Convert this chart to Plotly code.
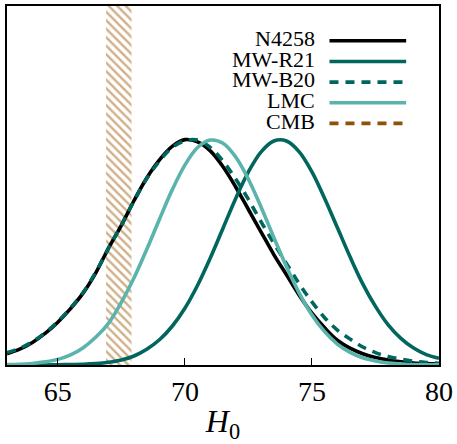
import plotly.graph_objects as go

# H0 grid (km/s/Mpc)
h0 = [63.0, 63.5, 64.0, 64.5, 65.0, 65.5, 66.0, 66.5, 67.0, 67.5, 68.0, 68.5,
      69.0, 69.5, 70.0, 70.5, 71.0, 71.5, 72.0, 72.5, 73.0, 73.5, 74.0, 74.5,
      75.0, 75.5, 76.0, 76.5, 77.0, 77.5, 78.0, 78.5, 79.0, 79.5, 80.0]

n4258 = [0.050, 0.070, 0.100, 0.140, 0.190, 0.250, 0.320, 0.410, 0.520, 0.620, 0.730, 0.830,
         0.910, 0.970, 1.000, 0.990, 0.950, 0.880, 0.790, 0.690, 0.590, 0.490, 0.400, 0.310,
         0.230, 0.165, 0.110, 0.075, 0.050, 0.033, 0.022, 0.014, 0.009, 0.006, 0.004]

mw_r21 = [0.000, 0.000, 0.000, 0.000, 0.001, 0.002, 0.003, 0.006, 0.012, 0.022, 0.040, 0.070,
          0.112, 0.172, 0.252, 0.354, 0.475, 0.607, 0.739, 0.857, 0.946, 0.994, 0.994, 0.946,
          0.857, 0.739, 0.610, 0.480, 0.360, 0.260, 0.178, 0.118, 0.075, 0.046, 0.030]

mw_b20 = [0.055, 0.074, 0.103, 0.143, 0.193, 0.253, 0.323, 0.413, 0.520, 0.620, 0.728, 0.828,
          0.905, 0.965, 0.995, 0.998, 0.965, 0.905, 0.825, 0.735, 0.635, 0.540, 0.450, 0.360,
          0.280, 0.210, 0.155, 0.115, 0.080, 0.055, 0.038, 0.026, 0.017, 0.011, 0.007]

lmc = [0.002, 0.003, 0.007, 0.014, 0.025, 0.045, 0.077, 0.124, 0.186, 0.278, 0.387, 0.513,
       0.647, 0.777, 0.887, 0.965, 0.998, 0.984, 0.923, 0.824, 0.700, 0.566, 0.436, 0.319,
       0.222, 0.148, 0.093, 0.056, 0.032, 0.018, 0.009, 0.005, 0.002, 0.001, 0.001]

cmb_band = [66.9, 67.9]   # Planck 67.4 +/- 0.5

series_names = ["N4258", "MW-R21", "MW-B20", "LMC", "CMB"]
series_colors = ["#000000", "#01665e", "#01665e", "#5ab4ac", "#8c510a"]
series_dash = ["solid", "solid", "9px,7px", "solid", "9px,7px"]
series_vals = [n4258, mw_r21, mw_b20, lmc]

x_ticks = [65, 70, 75, 80]
x_range = [63, 80]
y_range = [0, 1.593]

fig = go.Figure()

# CMB hatched band
fig.add_trace(go.Scatter(
    x=[cmb_band[0], cmb_band[1], cmb_band[1], cmb_band[0], cmb_band[0]],
    y=[0, 0, 2, 2, 0],
    mode="lines", fill="toself", line=dict(width=0),
    fillcolor="rgba(0,0,0,0)",
    fillpattern=dict(shape="\\", fgcolor="#a0600f", bgcolor="rgba(0,0,0,0)",
                     size=6, solidity=0.4),
    hoverinfo="skip", showlegend=False))

for name, vals, col, dash in zip(series_names[:4], series_vals, series_colors[:4], series_dash[:4]):
    fig.add_trace(go.Scatter(x=h0, y=vals, mode="lines", name=name,
                             line=dict(color=col, width=3.6, dash=dash, shape="spline"),
                             showlegend=False))

# manual legend (text left of the line sample, as in the reference)
leg_y0 = 0.903
leg_dy = 0.0575
for i, (name, col, dash) in enumerate(zip(series_names, series_colors, series_dash)):
    yy = leg_y0 - i * leg_dy
    fig.add_annotation(x=0.718, y=yy + 0.006, xref="paper", yref="paper", text=name,
                       showarrow=False, xanchor="right", yanchor="middle",
                       font=dict(family="Liberation Serif", size=22, color="black"))
    fig.add_shape(type="line", xref="paper", yref="paper",
                  x0=0.7465, x1=0.924, y0=yy, y1=yy,
                  line=dict(color=col, width=3.6, dash=dash))

fig.update_layout(
    width=457, height=444,
    margin=dict(l=7, r=16, t=4, b=79),
    paper_bgcolor="white", plot_bgcolor="white",
    font=dict(family="Liberation Serif", color="black"),
    showlegend=False,
)
fig.update_xaxes(range=x_range, tickvals=x_ticks, ticks="inside", ticklen=7,
                 tickwidth=1.2, tickcolor="black",
                 showline=True, linecolor="black", linewidth=2, mirror=True,
                 showgrid=False, zeroline=False,
                 tickfont=dict(family="Liberation Serif", size=28),
                 title=dict(text="<i>H</i><sub>0</sub>", font=dict(family="Liberation Serif", size=32),
                            standoff=4))
fig.update_yaxes(range=y_range, showticklabels=False, ticks="",
                 showline=True, linecolor="black", linewidth=2, mirror=True,
                 showgrid=False, zeroline=False)

fig.write_html("out.html", config={"displayModeBar": False},
               post_script="document.body.style.margin='0';document.body.style.overflow='hidden';")
